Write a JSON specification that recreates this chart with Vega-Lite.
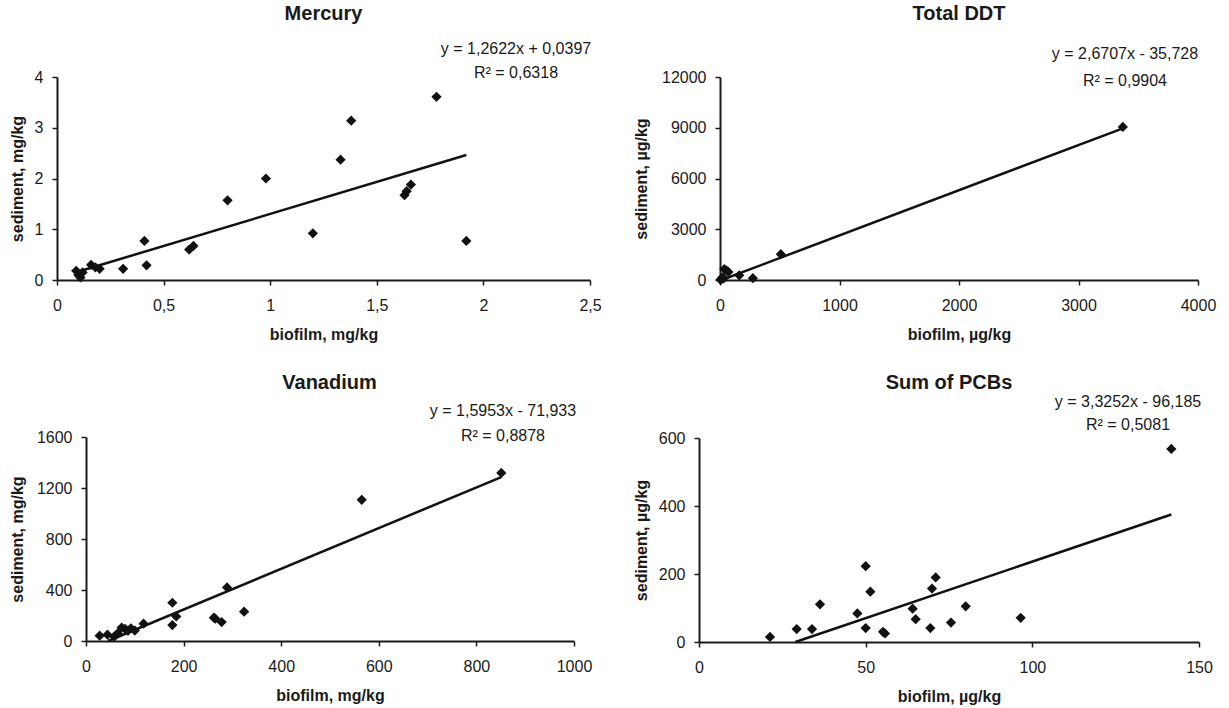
{
  "$schema": "https://vega.github.io/schema/vega-lite/v6.json",
  "background": "white",
  "padding": {"left": 9, "top": 3, "right": 5, "bottom": 5},
  "config": {
    "font": "Liberation Sans",
    "view": {"stroke": null},
    "title": {"fontSize": 20, "fontWeight": "bold", "color": "#1a1a1a"},
    "axis": {
      "grid": false,
      "domainColor": "#1a1a1a",
      "domainWidth": 2,
      "tickColor": "#1a1a1a",
      "tickWidth": 1.5,
      "tickSize": 5,
      "labelFontSize": 16,
      "labelColor": "#1a1a1a",
      "labelPadding": 9,
      "titleFontSize": 16,
      "titleFontWeight": "bold",
      "titleColor": "#1a1a1a",
      "format": "~f",
      "labelExpr": "replace(datum.label, '.', ',')",
      "labelFlush": false,
      "labelOverlap": false
    },
    "axisX": {"titlePadding": 13, "labelPadding": 12},
    "point": {"shape": "diamond", "filled": true, "color": "#111111", "size": 105, "opacity": 1},
    "line": {"color": "#111111", "strokeWidth": 2.5},
    "text": {"fontSize": 16, "color": "#1a1a1a", "align": "center", "baseline": "middle", "lineBreak": "\n", "lineHeight": 24}
  },
  "datasets": {
    "hg": [
      {"biofilm": 0.09, "sediment": 0.18},
      {"biofilm": 0.10, "sediment": 0.10},
      {"biofilm": 0.11, "sediment": 0.05},
      {"biofilm": 0.12, "sediment": 0.15},
      {"biofilm": 0.16, "sediment": 0.30},
      {"biofilm": 0.18, "sediment": 0.25},
      {"biofilm": 0.20, "sediment": 0.22},
      {"biofilm": 0.31, "sediment": 0.22},
      {"biofilm": 0.41, "sediment": 0.77},
      {"biofilm": 0.42, "sediment": 0.29},
      {"biofilm": 0.62, "sediment": 0.60},
      {"biofilm": 0.64, "sediment": 0.67},
      {"biofilm": 0.80, "sediment": 1.57},
      {"biofilm": 0.98, "sediment": 2.00},
      {"biofilm": 1.20, "sediment": 0.92},
      {"biofilm": 1.33, "sediment": 2.37},
      {"biofilm": 1.38, "sediment": 3.14},
      {"biofilm": 1.63, "sediment": 1.67},
      {"biofilm": 1.64, "sediment": 1.75},
      {"biofilm": 1.66, "sediment": 1.88},
      {"biofilm": 1.78, "sediment": 3.61},
      {"biofilm": 1.92, "sediment": 0.77}
    ],
    "hg_fit": [
      {"biofilm": 0.09, "sediment": 0.153},
      {"biofilm": 1.92, "sediment": 2.463}
    ],
    "ddt": [
      {"biofilm": 5, "sediment": 10},
      {"biofilm": 10, "sediment": 40},
      {"biofilm": 20, "sediment": 150},
      {"biofilm": 30, "sediment": 90},
      {"biofilm": 36, "sediment": 650},
      {"biofilm": 55, "sediment": 560},
      {"biofilm": 70, "sediment": 480},
      {"biofilm": 161, "sediment": 280},
      {"biofilm": 275, "sediment": 110},
      {"biofilm": 509, "sediment": 1527},
      {"biofilm": 3371, "sediment": 9045}
    ],
    "ddt_fit": [
      {"biofilm": 13.4, "sediment": 0},
      {"biofilm": 3371, "sediment": 8967}
    ],
    "v": [
      {"biofilm": 28, "sediment": 42},
      {"biofilm": 44, "sediment": 50},
      {"biofilm": 58, "sediment": 35},
      {"biofilm": 65, "sediment": 60},
      {"biofilm": 73, "sediment": 105},
      {"biofilm": 80, "sediment": 95},
      {"biofilm": 86, "sediment": 80},
      {"biofilm": 92, "sediment": 100},
      {"biofilm": 100, "sediment": 82},
      {"biofilm": 118, "sediment": 136},
      {"biofilm": 177, "sediment": 300},
      {"biofilm": 177, "sediment": 125},
      {"biofilm": 185, "sediment": 193},
      {"biofilm": 262, "sediment": 183},
      {"biofilm": 265, "sediment": 175},
      {"biofilm": 278, "sediment": 149},
      {"biofilm": 289, "sediment": 420},
      {"biofilm": 324, "sediment": 230},
      {"biofilm": 565, "sediment": 1107},
      {"biofilm": 851, "sediment": 1318}
    ],
    "v_fit": [
      {"biofilm": 45.1, "sediment": 0},
      {"biofilm": 851, "sediment": 1286}
    ],
    "pcb": [
      {"biofilm": 21.3, "sediment": 15},
      {"biofilm": 29.3, "sediment": 38},
      {"biofilm": 33.9, "sediment": 38},
      {"biofilm": 36.3, "sediment": 111},
      {"biofilm": 47.5, "sediment": 84},
      {"biofilm": 50.0, "sediment": 223},
      {"biofilm": 50.0, "sediment": 41},
      {"biofilm": 51.4, "sediment": 148},
      {"biofilm": 55.2, "sediment": 30},
      {"biofilm": 55.8, "sediment": 25},
      {"biofilm": 64.1, "sediment": 98},
      {"biofilm": 65.0, "sediment": 67},
      {"biofilm": 69.4, "sediment": 41},
      {"biofilm": 69.9, "sediment": 157},
      {"biofilm": 71.0, "sediment": 190},
      {"biofilm": 75.6, "sediment": 57},
      {"biofilm": 80.0, "sediment": 105},
      {"biofilm": 96.5, "sediment": 71},
      {"biofilm": 141.7, "sediment": 568}
    ],
    "pcb_fit": [
      {"biofilm": 28.9, "sediment": 0},
      {"biofilm": 141.7, "sediment": 375}
    ]
  },
  "concat": [
    {
      "title": {"text": "Mercury", "offset": 17},
      "width": 533,
      "height": 203,
      "layer": [
        {"data": {"name": "hg_fit"}, "mark": {"type": "line"},
         "encoding": {
            "x": {"field": "biofilm", "type": "quantitative", "scale": {"domain": [0, 2.5], "nice": false, "zero": false},
                  "axis": {"title": "biofilm, mg/kg", "values": [0, 0.5, 1, 1.5, 2, 2.5]}},
            "y": {"field": "sediment", "type": "quantitative", "scale": {"domain": [0, 4], "nice": false, "zero": false},
                  "axis": {"title": "sediment, mg/kg", "values": [0, 1, 2, 3, 4], "titlePadding": 9}}}},
        {"data": {"name": "hg"}, "mark": {"type": "point"},
         "encoding": {"x": {"field": "biofilm", "type": "quantitative"}, "y": {"field": "sediment", "type": "quantitative"}}},
        {"data": {"values": [{"eq": "y = 1,2622x + 0,0397\nR² = 0,6318"}]},
         "mark": {"type": "text", "lineHeight": 24},
         "encoding": {"x": {"datum": 2.153, "type": "quantitative"}, "y": {"datum": 4.552, "type": "quantitative"}, "text": {"field": "eq", "type": "nominal"}}}
      ]
    },
    {
      "title": {"text": "Total DDT", "offset": 22},
      "width": 478,
      "height": 203,
      "layer": [
        {"data": {"name": "ddt_fit"}, "mark": {"type": "line"},
         "encoding": {
            "x": {"field": "biofilm", "type": "quantitative", "scale": {"domain": [0, 4000], "nice": false, "zero": false},
                  "axis": {"title": "biofilm, µg/kg", "values": [0, 1000, 2000, 3000, 4000]}},
            "y": {"field": "sediment", "type": "quantitative", "scale": {"domain": [0, 12000], "nice": false, "zero": false},
                  "axis": {"title": "sediment, µg/kg", "values": [0, 3000, 6000, 9000, 12000], "titlePadding": 12}}}},
        {"data": {"name": "ddt"}, "mark": {"type": "point"},
         "encoding": {"x": {"field": "biofilm", "type": "quantitative"}, "y": {"field": "sediment", "type": "quantitative"}}},
        {"data": {"values": [{"eq": "y = 2,6707x - 35,728\nR² = 0,9904"}]},
         "mark": {"type": "text", "lineHeight": 27},
         "encoding": {"x": {"datum": 3389, "type": "quantitative"}, "y": {"datum": 13360, "type": "quantitative"}, "text": {"field": "eq", "type": "nominal"}}}
      ]
    },
    {
      "title": {"text": "Vanadium", "offset": 10},
      "width": 545,
      "height": 204,
      "layer": [
        {"data": {"name": "v_fit"}, "mark": {"type": "line"},
         "encoding": {
            "x": {"field": "biofilm", "type": "quantitative", "scale": {"domain": [0, 1000], "nice": false, "zero": false, "range": [29, 517]},
                  "axis": {"title": "biofilm, mg/kg", "values": [0, 200, 400, 600, 800, 1000]}},
            "y": {"field": "sediment", "type": "quantitative", "scale": {"domain": [0, 1600], "nice": false, "zero": false},
                  "axis": {"title": "sediment, mg/kg", "values": [0, 400, 800, 1200, 1600], "titlePadding": 11, "offset": -29}}}},
        {"data": {"name": "v"}, "mark": {"type": "point"},
         "encoding": {"x": {"field": "biofilm", "type": "quantitative"}, "y": {"field": "sediment", "type": "quantitative"}}},
        {"data": {"values": [{"eq": "y = 1,5953x - 71,933\nR² = 0,8878"}]},
         "mark": {"type": "text", "lineHeight": 25},
         "encoding": {"x": {"datum": 854.5, "type": "quantitative"}, "y": {"datum": 1804, "type": "quantitative"}, "text": {"field": "eq", "type": "nominal"}}}
      ]
    },
    {
      "title": {"text": "Sum of PCBs", "offset": 1},
      "width": 500,
      "height": 204,
      "layer": [
        {"data": {"name": "pcb_fit"}, "mark": {"type": "line"},
         "encoding": {
            "x": {"field": "biofilm", "type": "quantitative", "scale": {"domain": [0, 150], "nice": false, "zero": false},
                  "axis": {"title": "biofilm, µg/kg", "values": [0, 50, 100, 150]}},
            "y": {"field": "sediment", "type": "quantitative", "scale": {"domain": [0, 600], "nice": false, "zero": false},
                  "axis": {"title": "sediment, µg/kg", "values": [0, 200, 400, 600], "titlePadding": 9}}}},
        {"data": {"name": "pcb"}, "mark": {"type": "point"},
         "encoding": {"x": {"field": "biofilm", "type": "quantitative"}, "y": {"field": "sediment", "type": "quantitative"}}},
        {"data": {"values": [{"eq": "y = 3,3252x - 96,185\nR² = 0,5081"}]},
         "mark": {"type": "text", "lineHeight": 23},
         "encoding": {"x": {"datum": 128.7, "type": "quantitative"}, "y": {"datum": 705.9, "type": "quantitative"}, "text": {"field": "eq", "type": "nominal"}}}
      ]
    }
  ],
  "columns": 2,
  "align": "none",
  "spacing": {"row": 30, "column": 31}
}
